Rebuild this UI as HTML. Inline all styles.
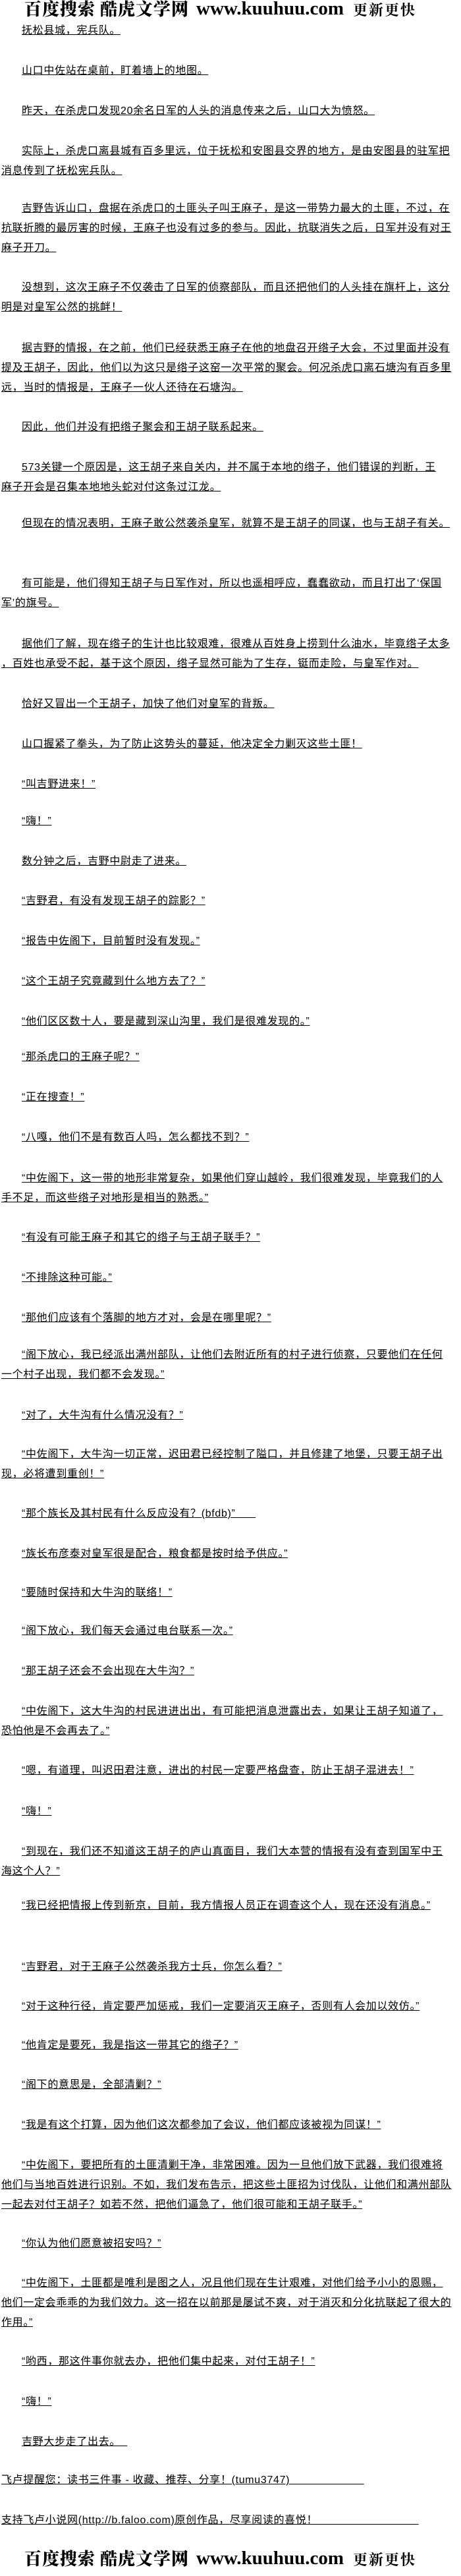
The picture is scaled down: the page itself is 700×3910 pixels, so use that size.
<!DOCTYPE html>
<html><head><meta charset="utf-8">
<style>
html,body{margin:0;padding:0;background:#fff;}
body{width:700px;height:3910px;position:relative;overflow:hidden;
font-family:"Liberation Sans","Noto Sans CJK SC",sans-serif;font-size:16px;color:#000;}
.p{position:absolute;left:2px;width:700px;}
.l{height:30px;line-height:30px;white-space:nowrap;letter-spacing:0.67px;}
.l span{text-decoration:underline;}
.i{padding-left:31px;}
.hd{position:absolute;left:0;width:700px;height:32px;white-space:nowrap;}
.hd span{position:absolute;top:0;line-height:30px;}
.hd .c{font-family:"Noto Serif CJK SC","Liberation Serif",serif;font-size:26px;font-weight:900;letter-spacing:1px;}
.hd .w{font-family:"Liberation Serif",serif;font-size:29px;font-weight:bold;}
.hd .s{font-family:"Noto Serif CJK SC","Liberation Serif",serif;font-size:22px;font-weight:bold;letter-spacing:2px;top:2px;}
</style></head><body>
<div class="hd" style="top:-2px"><span class="c" style="left:37px">百度搜索</span><span class="c" style="left:152px">酷虎文学网</span><span class="w" style="left:298px">www.kuuhuu.com</span><span class="s" style="left:536px">更新更快</span></div>

<div class="p" style="top:32px"><div class="l i"><span>抚松县城，宪兵队。</span></div></div>
<div class="p" style="top:93px"><div class="l i"><span>山口中佐站在桌前，盯着墙上的地图。</span></div></div>
<div class="p" style="top:154px"><div class="l i"><span>昨天，在杀虎口发现20余名日军的人头的消息传来之后，山口大为愤怒。</span></div></div>
<div class="p" style="top:215px"><div class="l i"><span>实际上，杀虎口离县城有百多里远，位于抚松和安图县交界的地方，是由安图县的驻军把</span></div><div class="l"><span>消息传到了抚松宪兵队。</span></div></div>
<div class="p" style="top:302px"><div class="l i"><span>吉野告诉山口，盘据在杀虎口的土匪头子叫王麻子，是这一带势力最大的土匪，不过，在</span></div><div class="l"><span>抗联折腾的最厉害的时候，王麻子也没有过多的参与。因此，抗联消失之后，日军并没有对王</span></div><div class="l"><span>麻子开刀。</span></div></div>
<div class="p" style="top:422px"><div class="l i"><span>没想到，这次王麻子不仅袭击了日军的侦察部队，而且还把他们的人头挂在旗杆上，这分</span></div><div class="l"><span>明是对皇军公然的挑衅！</span></div></div>
<div class="p" style="top:514px"><div class="l i"><span>据吉野的情报，在之前，他们已经获悉王麻子在他的地盘召开绺子大会，不过里面并没有</span></div><div class="l"><span>提及王胡子，因此，他们以为这只是绺子这窑一次平常的聚会。何况杀虎口离石塘沟有百多里</span></div><div class="l"><span>远，当时的情报是，王麻子一伙人还待在石塘沟。</span></div></div>
<div class="p" style="top:634px"><div class="l i"><span>因此，他们并没有把绺子聚会和王胡子联系起来。</span></div></div>
<div class="p" style="top:695px"><div class="l i"><span>573关键一个原因是，这王胡子来自关内，并不属于本地的绺子，他们错误的判断，王</span></div><div class="l"><span>麻子开会是召集本地地头蛇对付这条过江龙。</span></div></div>
<div class="p" style="top:780px"><div class="l i"><span>但现在的情况表明，王麻子敢公然袭杀皇军，就算不是王胡子的同谋，也与王胡子有关。</span></div></div>
<div class="p" style="top:871px"><div class="l i"><span>有可能是，他们得知王胡子与日军作对，所以也遥相呼应，蠢蠢欲动，而且打出了‘保国</span></div><div class="l"><span>军’的旗号。</span></div></div>
<div class="p" style="top:963px"><div class="l i"><span>据他们了解，现在绺子的生计也比较艰难，很难从百姓身上捞到什么油水，毕竟绺子太多</span></div><div class="l"><span>，百姓也承受不起，基于这个原因，绺子显然可能为了生存，铤而走险，与皇军作对。</span></div></div>
<div class="p" style="top:1054px"><div class="l i"><span>恰好又冒出一个王胡子，加快了他们对皇军的背叛。</span></div></div>
<div class="p" style="top:1115px"><div class="l i"><span>山口握紧了拳头，为了防止这势头的蔓延，他决定全力剿灭这些土匪！</span></div></div>
<div class="p" style="top:1176px"><div class="l i"><span>“叫吉野进来！”</span></div></div>
<div class="p" style="top:1232px"><div class="l i"><span>“嗨！”</span></div></div>
<div class="p" style="top:1293px"><div class="l i"><span>数分钟之后，吉野中尉走了进来。</span></div></div>
<div class="p" style="top:1353px"><div class="l i"><span>“吉野君，有没有发现王胡子的踪影？”</span></div></div>
<div class="p" style="top:1414px"><div class="l i"><span>“报告中佐阁下，目前暂时没有发现。”</span></div></div>
<div class="p" style="top:1475px"><div class="l i"><span>“这个王胡子究竟藏到什么地方去了？”</span></div></div>
<div class="p" style="top:1536px"><div class="l i"><span>“他们区区数十人，要是藏到深山沟里，我们是很难发现的。”</span></div></div>
<div class="p" style="top:1590px"><div class="l i"><span>“那杀虎口的王麻子呢？”</span></div></div>
<div class="p" style="top:1651px"><div class="l i"><span>“正在搜查！”</span></div></div>
<div class="p" style="top:1712px"><div class="l i"><span>“八嘎，他们不是有数百人吗，怎么都找不到？”</span></div></div>
<div class="p" style="top:1774px"><div class="l i"><span>“中佐阁下，这一带的地形非常复杂，如果他们穿山越岭，我们很难发现，毕竟我们的人</span></div><div class="l"><span>手不足，而这些绺子对地形是相当的熟悉。”</span></div></div>
<div class="p" style="top:1864px"><div class="l i"><span>“有没有可能王麻子和其它的绺子与王胡子联手？”</span></div></div>
<div class="p" style="top:1925px"><div class="l i"><span>“不排除这种可能。”</span></div></div>
<div class="p" style="top:1986px"><div class="l i"><span>“那他们应该有个落脚的地方才对，会是在哪里呢？”</span></div></div>
<div class="p" style="top:2042px"><div class="l i"><span>“阁下放心，我已经派出满州部队，让他们去附近所有的村子进行侦察，只要他们在任何</span></div><div class="l"><span>一个村子出现，我们都不会发现。”</span></div></div>
<div class="p" style="top:2134px"><div class="l i"><span>“对了，大牛沟有什么情况没有？”</span></div></div>
<div class="p" style="top:2193px"><div class="l i"><span>“中佐阁下，大牛沟一切正常，迟田君已经控制了隘口，并且修建了地堡，只要王胡子出</span></div><div class="l"><span>现，必将遭到重创！”</span></div></div>
<div class="p" style="top:2283px"><div class="l i"><span>“那个族长及其村民有什么反应没有？(bfdb)”&nbsp;&nbsp;&nbsp;&nbsp;&nbsp;&nbsp;</span></div></div>
<div class="p" style="top:2344px"><div class="l i"><span>“族长布彦泰对皇军很是配合，粮食都是按时给予供应。”</span></div></div>
<div class="p" style="top:2403px"><div class="l i"><span>“要随时保持和大牛沟的联络！”</span></div></div>
<div class="p" style="top:2461px"><div class="l i"><span>“阁下放心，我们每天会通过电台联系一次。”</span></div></div>
<div class="p" style="top:2522px"><div class="l i"><span>“那王胡子还会不会出现在大牛沟？”</span></div></div>
<div class="p" style="top:2583px"><div class="l i"><span>“中佐阁下，这大牛沟的村民进进出出，有可能把消息泄露出去，如果让王胡子知道了，</span></div><div class="l"><span>恐怕他是不会再去了。”</span></div></div>
<div class="p" style="top:2673px"><div class="l i"><span>“嗯，有道理，叫迟田君注意，进出的村民一定要严格盘查，防止王胡子混进去！”</span></div></div>
<div class="p" style="top:2735px"><div class="l i"><span>“嗨！”</span></div></div>
<div class="p" style="top:2796px"><div class="l i"><span>“到现在，我们还不知道这王胡子的庐山真面目，我们大本营的情报有没有查到国军中王</span></div><div class="l"><span>海这个人？”</span></div></div>
<div class="p" style="top:2878px"><div class="l i"><span>“我已经把情报上传到新京，目前，我方情报人员正在调查这个人，现在还没有消息。”</span></div></div>
<div class="p" style="top:2971px"><div class="l i"><span>“吉野君，对于王麻子公然袭杀我方士兵，你怎么看？”</span></div></div>
<div class="p" style="top:3031px"><div class="l i"><span>“对于这种行径，肯定要严加惩戒，我们一定要消灭王麻子，否则有人会加以效仿。”</span></div></div>
<div class="p" style="top:3090px"><div class="l i"><span>“他肯定是要死，我是指这一带其它的绺子？”</span></div></div>
<div class="p" style="top:3150px"><div class="l i"><span>“阁下的意思是，全部清剿？”</span></div></div>
<div class="p" style="top:3211px"><div class="l i"><span>“我是有这个打算，因为他们这次都参加了会议，他们都应该被视为同谋！”</span></div></div>
<div class="p" style="top:3272px"><div class="l i"><span>“中佐阁下，要把所有的土匪清剿干净，非常困难。因为一旦他们放下武器，我们很难将</span></div><div class="l"><span>他们与当地百姓进行识别。不如，我们发布告示，把这些土匪招为讨伐队，让他们和满州部队</span></div><div class="l"><span>一起去对付王胡子？如若不然，把他们逼急了，他们很可能和王胡子联手。”</span></div></div>
<div class="p" style="top:3391px"><div class="l i"><span>“你认为他们愿意被招安吗？”</span></div></div>
<div class="p" style="top:3451px"><div class="l i"><span>“中佐阁下，土匪都是唯利是图之人，况且他们现在生计艰难，对他们给予小小的恩赐，</span></div><div class="l"><span>他们一定会乖乖的为我们效力。这一招在以前那是屡试不爽，对于消灭和分化抗联起了很大的</span></div><div class="l"><span>作用。”</span></div></div>
<div class="p" style="top:3570px"><div class="l i"><span>“哟西，那这件事你就去办，把他们集中起来，对付王胡子！”</span></div></div>
<div class="p" style="top:3631px"><div class="l i"><span>“嗨！”</span></div></div>
<div class="p" style="top:3692px"><div class="l i"><span>吉野大步走了出去。&nbsp;&nbsp;</span></div></div>
<div class="p" style="top:3750px"><div class="l"><span>飞卢提醒您：读书三件事 - 收藏、推荐、分享！(tumu3747)&nbsp;&nbsp;&nbsp;&nbsp;&nbsp;&nbsp;&nbsp;&nbsp;&nbsp;&nbsp;&nbsp;&nbsp;&nbsp;&nbsp;&nbsp;&nbsp;&nbsp;&nbsp;&nbsp;&nbsp;&nbsp;&nbsp;</span></div></div>
<div class="p" style="top:3811px"><div class="l"><span>支持飞卢小说网(http://b.faloo.com)原创作品，尽享阅读的喜悦！&nbsp;&nbsp;&nbsp;&nbsp;&nbsp;&nbsp;&nbsp;&nbsp;&nbsp;&nbsp;&nbsp;&nbsp;&nbsp;&nbsp;&nbsp;&nbsp;&nbsp;&nbsp;&nbsp;&nbsp;&nbsp;&nbsp;&nbsp;&nbsp;&nbsp;&nbsp;&nbsp;&nbsp;&nbsp;&nbsp;</span></div></div>

<div class="hd" style="top:3868px"><span class="c" style="left:37px">百度搜索</span><span class="c" style="left:152px">酷虎文学网</span><span class="w" style="left:298px">www.kuuhuu.com</span><span class="s" style="left:536px">更新更快</span></div>
</body></html>
